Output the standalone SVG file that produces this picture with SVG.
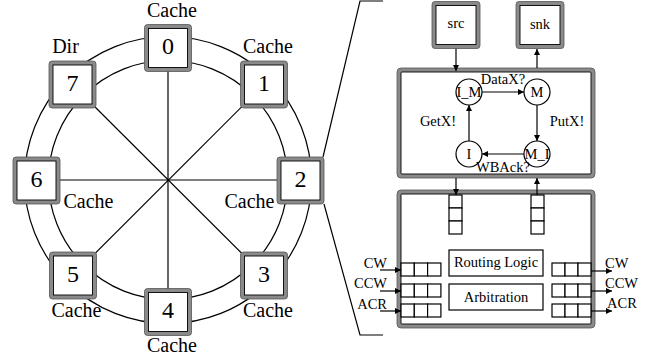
<svg xmlns="http://www.w3.org/2000/svg" width="654" height="360" viewBox="0 0 654 360">
<defs>
<style>
.ln{stroke:#000;stroke-width:1.2;fill:none}
.nb{fill:#8a8a8a;stroke:#555;stroke-width:0.8}
.ni{fill:#fff;stroke:#000;stroke-width:0.9}
.num{font-family:"Liberation Serif",serif;font-size:24px;text-anchor:middle;fill:#000}
.lab{font-family:"Liberation Serif",serif;font-size:20px;text-anchor:middle;fill:#000}
.t{font-family:"Liberation Serif",serif;font-size:14.5px;text-anchor:middle;fill:#000}
.tr{font-family:"Liberation Serif",serif;font-size:14.5px;text-anchor:end;fill:#000}
.tl{font-family:"Liberation Serif",serif;font-size:14.5px;text-anchor:start;fill:#000}
.cell{fill:#fff;stroke:#000;stroke-width:1.2}
.st{fill:#fff;stroke:#000;stroke-width:1.2}
.ar{stroke:#000;stroke-width:1.2;fill:none;marker-end:url(#ah)}
</style>
<marker id="ah" viewBox="0 0 10 10" refX="10" refY="5" markerWidth="8" markerHeight="6" markerUnits="userSpaceOnUse" orient="auto">
<path d="M0,0 L10,5 L0,10 z" fill="#000"/>
</marker>
</defs>

<g id="state-machine">
<rect class="nb" x="397" y="68" width="198" height="110" rx="4"/>
<rect class="ni" x="401" y="72" width="190" height="102" rx="1"/>
</g>
<g id="router">
<rect class="nb" x="397" y="190" width="198" height="138" rx="4"/>
<rect class="ni" x="401" y="194" width="190" height="130" rx="1"/>
</g>

<g id="connectors">
<circle class="ln" cx="168" cy="180" r="143.5"/>
<circle class="ln" cx="168" cy="180" r="119.5"/>
<line class="ln" x1="168" y1="48" x2="168" y2="312"/>
<line class="ln" x1="36" y1="180" x2="300" y2="180"/>
<line class="ln" x1="72.5" y1="84.5" x2="264" y2="275.5"/>
<line class="ln" x1="264" y1="84.5" x2="73" y2="275.5"/>
<polyline class="ln" points="323,157 360,1 383,1"/>
<polyline class="ln" points="324,204 360,335 383,335"/>
<line class="ar" x1="456" y1="48" x2="456" y2="71"/>
<line class="ar" x1="537" y1="68" x2="537" y2="49"/>
<line class="ar" x1="482" y1="92" x2="524" y2="92"/>
<line class="ar" x1="537" y1="105" x2="537" y2="141"/>
<line class="ar" x1="524" y1="154" x2="482" y2="154"/>
<line class="ar" x1="469" y1="141" x2="469" y2="105"/>
<line class="ar" x1="456" y1="178" x2="456" y2="195"/>
<line class="ar" x1="537" y1="195" x2="537" y2="178"/>
<line class="ar" x1="380" y1="270" x2="401" y2="270"/>
<line class="ar" x1="380" y1="291" x2="401" y2="291"/>
<line class="ar" x1="380" y1="311" x2="401" y2="311"/>
<line class="ar" x1="591" y1="271" x2="612" y2="271"/>
<line class="ar" x1="591" y1="291" x2="612" y2="291"/>
<line class="ar" x1="591" y1="311" x2="612" y2="311"/>
</g>

<g id="node0"><rect class="nb" x="144.5" y="24.5" width="47" height="47" rx="3"/><rect class="ni" x="148.5" y="28.5" width="39" height="39"/><text class="num" x="168" y="54">0</text></g>
<g id="node1"><rect class="nb" x="240.5" y="61" width="47" height="47" rx="3"/><rect class="ni" x="244.5" y="65" width="39" height="39"/><text class="num" x="264" y="91">1</text></g>
<g id="node2"><rect class="nb" x="277" y="157" width="47" height="47" rx="3"/><rect class="ni" x="281" y="161" width="39" height="39"/><text class="num" x="300.5" y="187">2</text></g>
<g id="node3"><rect class="nb" x="240.5" y="252" width="47" height="47" rx="3"/><rect class="ni" x="244.5" y="256" width="39" height="39"/><text class="num" x="264" y="282">3</text></g>
<g id="node4"><rect class="nb" x="144.5" y="288.5" width="47" height="47" rx="3"/><rect class="ni" x="148.5" y="292.5" width="39" height="39"/><text class="num" x="168" y="318">4</text></g>
<g id="node5"><rect class="nb" x="49.5" y="252" width="47" height="47" rx="3"/><rect class="ni" x="53.5" y="256" width="39" height="39"/><text class="num" x="73" y="282">5</text></g>
<g id="node6"><rect class="nb" x="13" y="157" width="47" height="47" rx="3"/><rect class="ni" x="17" y="161" width="39" height="39"/><text class="num" x="36.5" y="187">6</text></g>
<g id="node7"><rect class="nb" x="49" y="61" width="47" height="47" rx="3"/><rect class="ni" x="53" y="65" width="39" height="39"/><text class="num" x="72.5" y="91">7</text></g>

<g id="ring-labels">
<text class="lab" x="172" y="17">Cache</text>
<text class="lab" x="65.5" y="53">Dir</text>
<text class="lab" x="268" y="53">Cache</text>
<text class="lab" x="88.5" y="208">Cache</text>
<text class="lab" x="249.5" y="208">Cache</text>
<text class="lab" x="76.5" y="317">Cache</text>
<text class="lab" x="268" y="317">Cache</text>
<text class="lab" x="172" y="352">Cache</text>
</g>

<g id="src"><rect class="nb" x="432" y="1.5" width="48" height="47" rx="3"/><rect class="ni" x="436" y="5.5" width="40" height="39"/><text class="t" x="456" y="28">src</text></g>
<g id="snk"><rect class="nb" x="516" y="1.5" width="48" height="47" rx="3"/><rect class="ni" x="520" y="5.5" width="40" height="39"/><text class="t" x="540" y="29">snk</text></g>

<g id="s_IM"><circle class="st" cx="469" cy="92" r="13"/><text class="t" x="469" y="97">I_M</text></g>
<g id="s_M"><circle class="st" cx="537" cy="92" r="13"/><text class="t" x="537" y="97">M</text></g>
<g id="s_I"><circle class="st" cx="469" cy="154" r="13"/><text class="t" x="469" y="159">I</text></g>
<g id="s_MI"><circle class="st" cx="537" cy="154" r="13"/><text class="t" x="537" y="159">M_I</text></g>
<g id="sm-labels">
<text class="t" x="503" y="84">DataX?</text>
<text class="t" x="438" y="126">GetX!</text>
<text class="t" x="567" y="126">PutX!</text>
<text class="t" x="503" y="172">WBAck?</text>
</g>

<g id="router-parts">
<rect class="cell" x="449" y="195" width="13" height="13"/>
<rect class="cell" x="449" y="208" width="13" height="13"/>
<rect class="cell" x="449" y="221" width="13" height="13"/>
<rect class="cell" x="531" y="195" width="13" height="13"/>
<rect class="cell" x="531" y="208" width="13" height="13"/>
<rect class="cell" x="531" y="221" width="13" height="13"/>
<g id="routing-logic"><rect class="cell" x="449" y="250" width="94" height="26"/><text class="t" x="496" y="267">Routing Logic</text></g>
<g id="arbitration"><rect class="cell" x="449" y="284" width="94" height="26"/><text class="t" x="496" y="302">Arbitration</text></g>
<g id="in-queues">
<rect class="cell" x="401" y="263" width="13.3" height="13"/><rect class="cell" x="414.3" y="263" width="13.3" height="13"/><rect class="cell" x="427.6" y="263" width="13.3" height="13"/>
<rect class="cell" x="401" y="284" width="13.3" height="13"/><rect class="cell" x="414.3" y="284" width="13.3" height="13"/><rect class="cell" x="427.6" y="284" width="13.3" height="13"/>
<rect class="cell" x="401" y="304" width="13.3" height="13"/><rect class="cell" x="414.3" y="304" width="13.3" height="13"/><rect class="cell" x="427.6" y="304" width="13.3" height="13"/>
</g>
<g id="out-queues">
<rect class="cell" x="552" y="263" width="13" height="13"/><rect class="cell" x="565" y="263" width="13" height="13"/><rect class="cell" x="578" y="263" width="13" height="13"/>
<rect class="cell" x="552" y="284" width="13" height="13"/><rect class="cell" x="565" y="284" width="13" height="13"/><rect class="cell" x="578" y="284" width="13" height="13"/>
<rect class="cell" x="552" y="304" width="13" height="13"/><rect class="cell" x="565" y="304" width="13" height="13"/><rect class="cell" x="578" y="304" width="13" height="13"/>
</g>
</g>

<g id="port-labels">
<text class="tr" x="387" y="268">CW</text>
<text class="tr" x="387" y="288">CCW</text>
<text class="tr" x="387" y="309">ACR</text>
<text class="tl" x="605" y="268">CW</text>
<text class="tl" x="605" y="288">CCW</text>
<text class="tl" x="607" y="308">ACR</text>
</g>
</svg>
